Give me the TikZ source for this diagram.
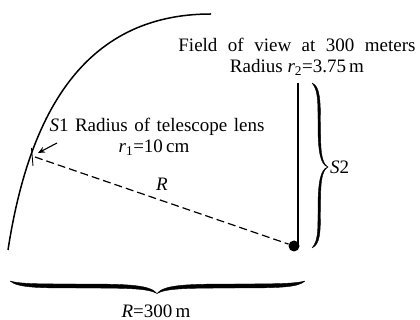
\documentclass[tikz,border=0pt]{standalone}
\usepackage{fontspec}
\setmainfont{Liberation Serif}
\usetikzlibrary{arrows.meta}
\begin{document}
\begin{tikzpicture}[x=1pt,y=-1pt,
  lbl/.style={font=\fontsize{19}{22}\selectfont, inner sep=0pt},
  curve/.style={line width=1.5pt},
  bracefill/.style={fill=black, draw=black, line width=0.4pt, line join=round},
  dashline/.style={line width=1.2pt, dash pattern=on 8pt off 4pt}]
\useasboundingbox (0,0) rectangle (420,320);
% arc
\coordinate (arcA) at (8,250);
\coordinate (arcB) at (211,14);
\draw[curve] (arcA) .. controls (28,120) and (80,14) .. (arcB);
% lens
\coordinate (lensT) at (31.5,148);
\coordinate (lensB) at (33,166);
\coordinate (lens) at (35,157);
\draw[line width=0.9pt] (lensT) -- (lensB);
% arrow
\coordinate (arrS) at (57,143);
\coordinate (arrE) at (38,153);
\draw[-{Stealth[length=7pt,width=6pt]}, line width=1.1pt] (arrS) -- (arrE);
% dot and vertical line
\node[circle, fill, minimum size=11pt, inner sep=0pt] (dot) at (294,246) {};
\coordinate (vtop) at (298,83);
\coordinate (vbot) at (298,244);
\draw[line width=1.3pt] (vtop) -- (vbot);
\draw[dashline] (lens) -- (dot);
% right brace
\coordinate (b2t) at (312,83);
\coordinate (b2tip) at (328,167);
\coordinate (b2b) at (312,248);
\fill[bracefill] (b2t) .. controls (320,86) and (320.5,100) .. (320.5,125)
   .. controls (320.5,150) and (321,163) .. (b2tip)
   .. controls (320,165) and (318,150) .. (318,125)
   .. controls (318,100) and (318,90) .. (b2t) -- cycle;
\fill[bracefill] (b2tip) .. controls (321,171) and (320.5,184) .. (320.5,209)
   .. controls (320.5,234) and (320,244) .. (b2b)
   .. controls (318,241) and (318,232) .. (318,209)
   .. controls (318,184) and (320,169) .. (b2tip) -- cycle;
% bottom brace
\coordinate (bbl) at (10,281);
\coordinate (bbtip) at (157,293.5);
\coordinate (bbr) at (305,281);
\fill[bracefill] (bbl) .. controls (20,284) and (40,284) .. (80,284)
   .. controls (130,284) and (150,285) .. (bbtip)
   .. controls (148,288.5) and (130,288) .. (80,288)
   .. controls (40,288) and (18,288) .. (bbl) -- cycle;
\fill[bracefill] (bbtip) .. controls (164,285) and (184,284) .. (234,284)
   .. controls (280,284) and (296,283.5) .. (bbr)
   .. controls (298,287.5) and (280,288) .. (234,288)
   .. controls (184,288) and (166,288.5) .. (bbtip) -- cycle;
% labels
\node[lbl] (fov) at (297,45) {\spaceskip=10.5pt Field of view at 300 meters};
\node[lbl] (rad2) at (297,67) {Radius \textit{r}\textsubscript{2}=3.75\,m};
\node[lbl] (s1) at (157,127) {\spaceskip=6.5pt \textit{S}1 Radius of telescope lens};
\node[lbl] (r1) at (154,148) {\textit{r}\textsubscript{1}=10\,cm};
\node[lbl] (Rl) at (162,184) {\textit{R}};
\node[lbl, anchor=west] (s2) at (330,167) {\textit{S}2};
\node[lbl, anchor=base] (R300) at (156,317) {\textit{R}=300\,m};
\end{tikzpicture}
\end{document}
